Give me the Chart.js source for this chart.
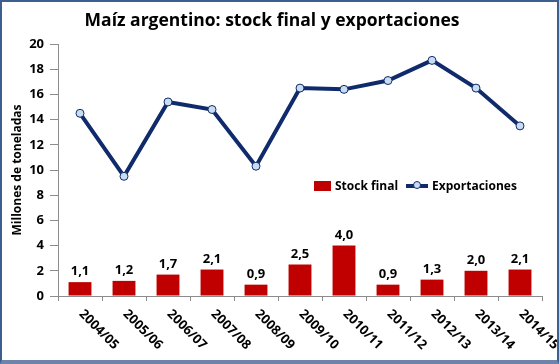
<!DOCTYPE html>
<html>
<head>
<meta charset="utf-8">
<script src="https://cdn.jsdelivr.net/npm/chart.js@4.4.0/dist/chart.umd.min.js"></script>
<style>
  html, body { margin: 0; padding: 0; background: #fff; }
  #frame {
    position: relative;
    width: 559px; height: 364px;
    box-sizing: border-box;
    border: 2px solid #3d5f90;
    border-bottom: 4px solid #6d84a8;
    background: #fff;
  }
  #legend {
    position: absolute; left: 312px; top: 175px;
    font: bold 12px "Open Sans", sans-serif; color: #000;
    display: flex; align-items: center; white-space: nowrap;
  }
  #legend .box { display: inline-block; width: 17px; height: 10px; background: #c00000; margin-right: 4px; }
  #legend .ln { position: relative; display: inline-block; width: 22px; height: 4px; background: #0f2b6b; margin: 0 4px 0 8px; }
  #legend .ln i { position: absolute; left: 7px; top: -3px; width: 8px; height: 8px; border-radius: 50%; background: #c8ddf2; border: 1px solid #0f2b6b; box-sizing: border-box; }
</style>
</head>
<body>
<div id="frame">
  <canvas id="context"></canvas>
  <div id="legend"><span class="box"></span>Stock final<span class="ln"><i></i></span>Exportaciones</div>
</div>
<script>
// campañas
const seasons = ['2004/05', '2005/06', '2006/07', '2007/08', '2008/09', '2009/10',
  '2010/11', '2011/12', '2012/13', '2013/14', '2014/15'];
// millones de toneladas
const stockFinal = [1.1, 1.2, 1.7, 2.1, 0.9, 2.5, 4.0, 0.9, 1.3, 2.0, 2.1];
const exportaciones = [14.5, 9.5, 15.4, 14.8, 10.3, 16.5, 16.4, 17.1, 18.7, 16.5, 13.5];
const yTicks = [0, 2, 4, 6, 8, 10, 12, 14, 16, 18, 20];

const FONT = '"Open Sans", sans-serif';
const AXIS_GREY = '#8c8c8c';

/**
 * Writes the bar values above each bar, with a decimal comma
 */
const barLabels = {
  id: 'barLabels',
  afterDatasetsDraw(chart) {
    const ctx = chart.ctx;
    const meta = chart.getDatasetMeta(0);
    ctx.save();
    ctx.font = `bold 13px ${FONT}`;
    ctx.fillStyle = '#000';
    ctx.textAlign = 'center';
    ctx.textBaseline = 'bottom';
    meta.data.forEach((bar, i) => {
      ctx.fillText(stockFinal[i].toFixed(1).replace('.', ','), bar.x, bar.y - 4);
    });
    ctx.restore();
  }
};

/**
 * Category labels turned clockwise, starting at the tick
 */
const slantedLabels = {
  id: 'slantedLabels',
  afterDraw(chart) {
    const ctx = chart.ctx;
    const x = chart.scales.x;
    ctx.save();
    ctx.font = `bold 13px ${FONT}`;
    ctx.fillStyle = '#000';
    ctx.textAlign = 'left';
    ctx.textBaseline = 'middle';
    seasons.forEach((label, i) => {
      ctx.save();
      ctx.translate(x.getPixelForValue(i) + 1, x.top + 16);
      ctx.rotate(Math.PI / 4);
      ctx.fillText(label, 0, 0);
      ctx.restore();
    });
    ctx.restore();
  }
};

function init() {
  const ctx = document.getElementById('context');

  new Chart(ctx, {
    data: {
      labels: seasons,
      datasets: [
        {
          type: 'bar',
          label: 'Stock final',
          data: stockFinal,
          backgroundColor: '#c00000',
          categoryPercentage: 1,
          barPercentage: 0.52,
          order: 2
        },
        {
          type: 'line',
          label: 'Exportaciones',
          data: exportaciones,
          borderColor: '#0f2b6b',
          borderWidth: 4,
          pointRadius: 4,
          pointBorderWidth: 1,
          pointBackgroundColor: '#c8ddf2',
          pointBorderColor: '#0f2b6b',
          tension: 0,
          order: 1
        }
      ]
    },
    options: {
      responsive: true,
      maintainAspectRatio: false,
      animation: false,
      layout: { padding: { top: 0, right: 15, left: 0, bottom: 0 } },
      plugins: {
        legend: { display: false },
        tooltip: { enabled: false },
        title: {
          display: true,
          text: 'Maíz argentino: stock final y exportaciones',
          color: '#000',
          font: { family: FONT, size: 17.5, weight: 'bold' },
          padding: { top: 9, bottom: 12 }
        }
      },
      scales: {
        x: {
          offset: true,
          afterFit: axis => { axis.height = 64; },
          grid: { display: true, offset: true, drawOnChartArea: false, color: AXIS_GREY, tickLength: 5 },
          border: { color: AXIS_GREY },
          ticks: { color: 'transparent', minRotation: 45, maxRotation: 45 }
        },
        y: {
          min: 0,
          max: 20,
          afterFit: axis => { axis.width = 56; },
          afterBuildTicks: axis => { axis.ticks = yTicks.map(v => ({ value: v })); },
          grid: { display: true, drawOnChartArea: false, color: AXIS_GREY, tickLength: 8 },
          border: { color: AXIS_GREY },
          ticks: {
            color: '#000',
            padding: 6,
            font: { family: FONT, size: 13, weight: 'bold' }
          },
          title: {
            display: true,
            text: 'Millones de toneladas',
            color: '#000',
            font: { family: FONT, size: 12, weight: 'bold' },
            padding: { top: 8, bottom: 0 }
          }
        }
      }
    },
    plugins: [barLabels, slantedLabels]
  });
}

init();
</script>
</body>
</html>
